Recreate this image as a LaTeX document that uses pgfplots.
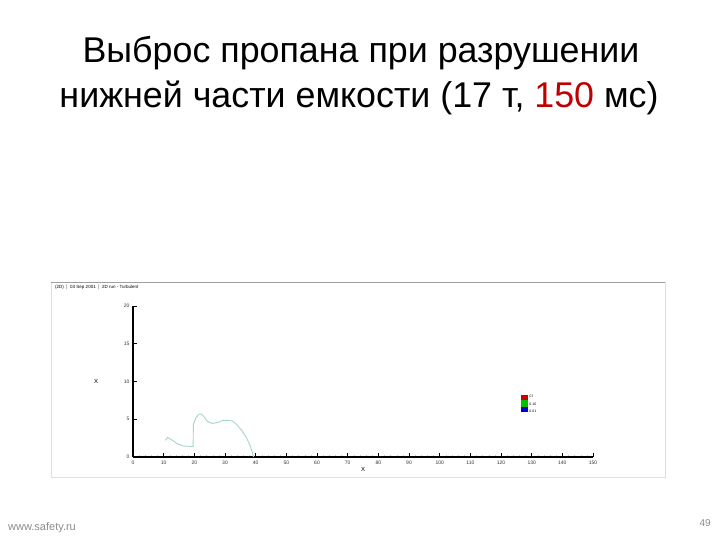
\documentclass[border=0pt]{standalone}
\usepackage{fontspec}
\setmainfont{Liberation Sans}
\usepackage{pgfplots}
\pgfplotsset{compat=1.18}
\definecolor{curve}{RGB}{168,212,200}
\definecolor{titlered}{RGB}{190,0,0}
\definecolor{footgray}{RGB}{140,140,140}
\begin{document}
\begin{tikzpicture}[x=1pt,y=1pt]
\useasboundingbox (0,0) rectangle (720,540);
% slide title
\node[anchor=base,inner sep=0] at (361,477) {\fontsize{35.8}{43}\selectfont Выброс пропана при разрушении};
\node[anchor=base,inner sep=0] at (359,432) {\fontsize{35.8}{43}\selectfont нижней части емкости (17 т, \textcolor{titlered}{150} мс)};
% panel
\draw[gray!25] (51,63) rectangle (665,258);
\draw[gray!75,line width=0.8pt] (51,258) -- (665,258);
\node[anchor=base west,inner sep=0] at (55,251) {\fontsize{4.5}{5}\selectfont (2D) \,$|$\, 03 Sep 2001 \,$|$\, 2D run - Turbulent};
\begin{axis}[
  at={(133pt,83pt)}, anchor=south west,
  scale only axis, width=460pt, height=151pt,
  xmin=0, xmax=150, ymin=0, ymax=20,
  axis x line*=bottom, axis y line*=left,
  axis line style={black, line width=1.2pt},
  xtick distance=10, ytick distance=5,
  minor x tick num=4,
  tick align=inside,
  major tick length=4pt, minor tick length=2pt,
  tick style={black, line width=0.6pt},
  minor tick style={gray!40, line width=0.4pt},
  tick label style={font=\fontsize{5}{6}\selectfont, text=black!80},
  /pgf/number format/assume math mode=true,
  xlabel={X}, ylabel={X},
  label style={font=\fontsize{6}{7}\selectfont},
  xlabel style={at={(axis description cs:0.5,-0.045)}, anchor=north},
  ylabel style={at={(axis description cs:-0.08,0.5)}, rotate=-90, anchor=center},
  clip=false,
]
\addplot[curve, line width=0.9pt] coordinates {
  (10.5,2.2) (11.3,2.6) (12.5,2.3) (14.5,1.75) (16.5,1.45) (19.6,1.4)
  (19.7,4.3) (20.5,5.2) (21.5,5.65) (22.3,5.7) (23.2,5.3) (24.3,4.7)
  (25.8,4.45) (27.5,4.55) (29.3,4.85) (31,4.85) (32.5,4.75) (33.8,4.3)
  (35.3,3.6) (36.8,2.7) (38,1.7) (38.9,0.6) (39.3,0)
};
% colour key
\fill[red!80!black] (axis cs:126.5,8.2) rectangle (axis cs:128.8,7.5);
\fill[green!75!black] (axis cs:126.5,7.5) rectangle (axis cs:128.8,6.6);
\fill[blue!80!black] (axis cs:126.5,6.6) rectangle (axis cs:128.8,5.9);
\node[anchor=west,inner sep=0,font=\fontsize{3.5}{4}\selectfont] at (axis cs:129.2,8.0) {Cf};
\node[anchor=west,inner sep=0,font=\fontsize{3.5}{4}\selectfont] at (axis cs:129.2,7.0) {0.10};
\node[anchor=west,inner sep=0,font=\fontsize{3.5}{4}\selectfont] at (axis cs:129.2,6.1) {0.01};
\end{axis}
% footer
\node[anchor=base west,inner sep=0,text=footgray] at (8,9) {\fontsize{11}{12}\selectfont www.safety.ru};
\node[anchor=base east,inner sep=0,text=footgray] at (711,13) {\fontsize{10}{11}\selectfont 49};
\end{tikzpicture}
\end{document}
